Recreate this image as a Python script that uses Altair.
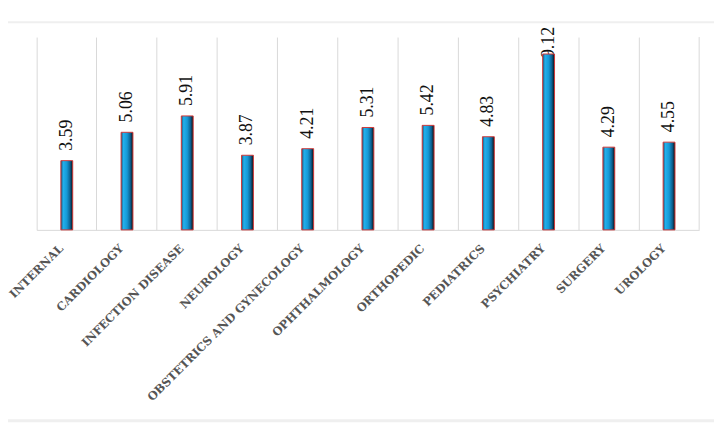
import altair as alt
import pandas as pd

departments = ["INTERNAL", "CARDIOLOGY", "INFECTION  DISEASE", "NEUROLOGY",
               "OBSTETRICS  AND  GYNECOLOGY", "OPHTHALMOLOGY", "ORTHOPEDIC",
               "PEDIATRICS", "PSYCHIATRY", "SURGERY", "UROLOGY"]
values = [3.59, 5.06, 5.91, 3.87, 4.21, 5.31, 5.42, 4.83, 9.12, 4.29, 4.55]

df = pd.DataFrame({"dept": departments, "value": values})
df["label"] = [f"{v:.2f}" for v in values]

W, H = 670, 195
grid = "#d9d9d9"

xenc = alt.X("dept:N", sort=departments, title=None,
             scale=alt.Scale(paddingInner=0, paddingOuter=0),
             axis=alt.Axis(labelAngle=-45, labelAlign="right", labelBaseline="middle",
                           labelPadding=17, labelOffset=-5,
                           labelFont="DejaVu Serif", labelFontWeight="bold",
                           labelFontSize=11.6, labelColor="#555555",
                           grid=True, gridColor=grid, bandPosition=0,
                           ticks=False, domainColor=grid, labelLimit=400))
yscale = alt.Scale(domain=[0, 10])

base = alt.Chart(df)

labels = base.transform_calculate(
    pos="datum.value > 8.5 ? 8.4 : datum.value"
).mark_text(angle=270, align="left", baseline="middle", dx=10,
            font="Liberation Serif", fontSize=18, color="#111111").encode(
    x=xenc,
    y=alt.Y("pos:Q", scale=yscale, axis=None),
    text="label:N")

gradient = alt.Gradient(
    gradient="linear", x1=0, x2=1, y1=0, y2=0,
    stops=[alt.GradientStop(color="#1b4f72", offset=0),
           alt.GradientStop(color="#22b0ec", offset=0.2),
           alt.GradientStop(color="#1699d6", offset=0.5),
           alt.GradientStop(color="#0c5f8f", offset=0.78),
           alt.GradientStop(color="#0a0a0a", offset=1)])

bars = base.mark_bar(size=12, fill=gradient, stroke="#d03a3a", strokeWidth=1).encode(
    x=xenc,
    y=alt.Y("value:Q", scale=yscale, axis=None))

right_edge = alt.Chart(pd.DataFrame({"k": [0]})).mark_rule(color=grid).encode(
    x=alt.value(W), y=alt.value(0), y2=alt.value(H))

top_line = alt.Chart(pd.DataFrame({"k": [0]})).mark_rule(color="#efefef", strokeWidth=2).encode(
    x=alt.value(-40), x2=alt.value(W + 20), y=alt.value(-15))
bottom_line = alt.Chart(pd.DataFrame({"k": [0]})).mark_rule(color="#efefef", strokeWidth=3).encode(
    x=alt.value(-40), x2=alt.value(W + 20), y=alt.value(388))

chart = alt.layer(top_line, bottom_line, right_edge, labels, bars).properties(
    width=W, height=H,
    autosize=alt.AutoSizeParams(type="none"),
    padding={"left": 29, "top": 27, "right": 15, "bottom": 200},
).configure_view(stroke=None)

chart.save("out.html", embed_options={"renderer": "svg", "actions": False})
